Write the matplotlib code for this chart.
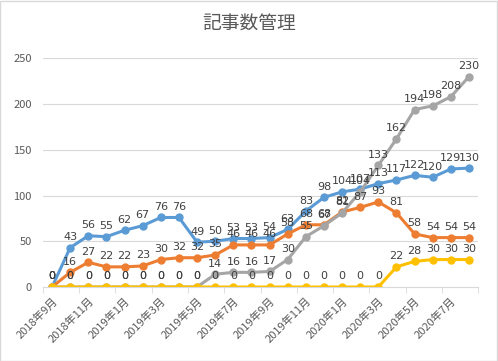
import matplotlib
matplotlib.use('Agg')
import matplotlib.pyplot as plt
from matplotlib.patches import Rectangle
import numpy as np

plt.rcParams['font.family'] = ['Noto Sans CJK JP', 'DejaVu Sans']

months = ['2018年9月', '2018年10月', '2018年11月', '2018年12月',
          '2019年1月', '2019年2月', '2019年3月', '2019年4月', '2019年5月', '2019年6月',
          '2019年7月', '2019年8月', '2019年9月', '2019年10月', '2019年11月', '2019年12月',
          '2020年1月', '2020年2月', '2020年3月', '2020年4月', '2020年5月', '2020年6月',
          '2020年7月', '2020年8月']
blue = [0, 43, 56, 55, 62, 67, 76, 76, 49, 50, 53, 53, 54, 63, 83, 98,
        104, 107, 113, 117, 122, 120, 129, 130]
orange = [0, 16, 27, 22, 22, 23, 30, 32, 32, 35, 46, 46, 46, 58, 68, 68,
          82, 87, 93, 81, 58, 54, 54, 54]
gray = [0, 0, 0, 0, 0, 0, 0, 0, 0, 14, 16, 16, 17, 30, 55, 67,
        81, 104, 133, 162, 194, 198, 208, 230]
yellow = [0, 0, 0, 0, 0, 0, 0, 0, 0, 0, 0, 0, 0, 0, 0, 0,
          0, 0, 0, 22, 28, 30, 30, 30]

TXT = '#595959'
GRID = '#D9D9D9'

fig = plt.figure(figsize=(4.98, 3.61), dpi=100)
ax = fig.add_axes([0.0863, 0.205, 0.8737, 0.6335])
x = np.arange(len(months))

series = [(blue, '#5B9BD5'), (orange, '#ED7D31'), (gray, '#A5A5A5'), (yellow, '#FFC000')]
for vals, col in series:
    ax.plot(x, vals, color=col, lw=2.2, marker='o', ms=5, solid_capstyle='round')
for vals, col in series:
    for xi, v in zip(x, vals):
        ax.annotate(str(v), (xi, v), xytext=(0, 4), textcoords='offset points',
                    ha='center', va='bottom', fontsize=8, color='#404040',
                    family=['DejaVu Sans'])

ax.set_xlim(-0.5, len(months) - 0.5)
ax.set_ylim(0, 250)
ax.set_yticks(range(0, 251, 50))
ax.yaxis.grid(True, color=GRID, lw=0.8)
ax.set_axisbelow(True)
for s in ['top', 'right', 'left']:
    ax.spines[s].set_visible(False)
ax.spines['bottom'].set_color(GRID)
ax.tick_params(axis='y', length=0, labelsize=8, labelcolor=TXT, pad=8)

ax.set_xticks(x[::2])
ax.set_xticklabels(months[::2], rotation=45, ha='right', rotation_mode='anchor',
                   fontsize=8, color=TXT)
ax.set_xticks(np.arange(-0.5, len(months), 2), minor=True)
ax.tick_params(axis='x', which='major', length=0, pad=6)
ax.tick_params(axis='x', which='minor', length=4, color=GRID)

fig.text(0.5, 0.937, '記事数管理', ha='center', va='center', fontsize=13.5, color=TXT)
fig.patches.append(Rectangle((0.001, 0.001), 0.997, 0.997, transform=fig.transFigure,
                             fill=False, ec=GRID, lw=1))

fig.savefig('out.png', dpi=100)
